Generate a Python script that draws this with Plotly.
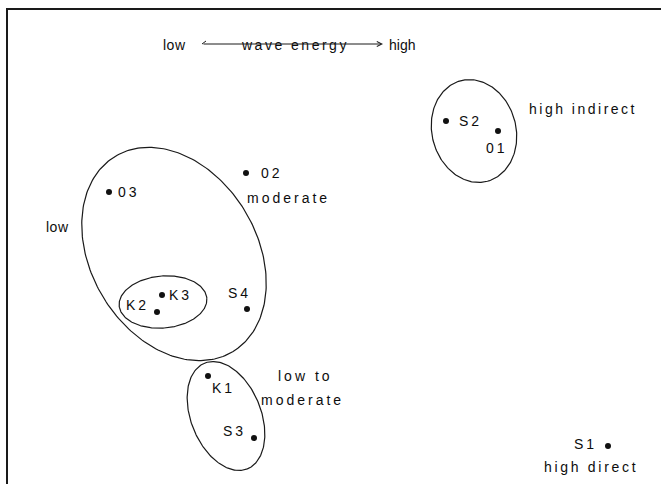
import numpy as np
import plotly.graph_objects as go

# --- data (ordination scores) ---
site = ["03", "02", "S2", "01", "K3", "K2", "S4", "K1", "S3", "S1"]
dim1 = [109, 246, 446, 498, 162, 157, 247, 208, 254, 608]
dim2 = [192, 173, 121, 131, 295, 312, 309, 376, 438, 446]

# label offsets in pixels (left edge of text relative to the point, vertical offset down)
lab_dx = [8, 14, 12, -13, 6, -32, -20, 3, -32, -35]
lab_dy = [0, 0, 0, 17, 0, -7, -16, 12, -7, -2]

# group outlines: centre x, centre y, semi-major, semi-minor, tilt (deg)
group_names = ["low", "K", "high indirect", "low to moderate"]
group_cx = [174, 163, 474, 226]
group_cy = [254, 302, 131, 416]
group_a = [114, 44, 52, 57]
group_b = [83, 26, 42, 35]
group_tilt = [59, -5, 75, 68]

FONT = dict(family="Liberation Sans, Arial, sans-serif", size=14, color="#0d0d0d")

fig = go.Figure()

t = np.linspace(0, 2 * np.pi, 241)
for name, cx, cy, a, b, th in zip(group_names, group_cx, group_cy, group_a, group_b, group_tilt):
    r = np.deg2rad(th)
    ex = cx + a * np.cos(r) * np.cos(t) - b * np.sin(r) * np.sin(t)
    ey = cy + a * np.sin(r) * np.cos(t) + b * np.cos(r) * np.sin(t)
    fig.add_trace(go.Scatter(x=ex, y=ey, mode="lines", name=name,
                             line=dict(color="#1a1a1a", width=1.2),
                             hoverinfo="skip", showlegend=False))

fig.add_trace(go.Scatter(x=dim1, y=dim2, mode="markers", text=site,
                         marker=dict(color="#111", size=6),
                         showlegend=False))

ann = []
for s, x, y, dx, dy in zip(site, dim1, dim2, lab_dx, lab_dy):
    ann.append(dict(x=x, y=y, xref="x", yref="y", text=s, showarrow=False,
                    xanchor="left", yanchor="middle", align="left",
                    xshift=dx - 1, yshift=-dy, font=FONT))

free_text = [
    ("high indirect", 528, 109),
    ("moderate", 246, 198),
    ("low", 45, 227),
    ("low to", 277, 376),
    ("moderate", 260, 400),
    ("high direct", 543, 467),
    ("low", 162, 45),
    ("wave energy", 240, 45),
    ("high", 388, 45),
]
for s, x, y in free_text:
    ann.append(dict(x=x - 1, y=y, xref="x", yref="y", text=s, showarrow=False,
                    xanchor="left", yanchor="middle", align="left", font=FONT))

# wave-energy arrow
ann.append(dict(x=383, y=44, ax=202, ay=44, xref="x", yref="y", axref="x", ayref="y",
                text="", showarrow=True, arrowhead=5, arrowsize=1.0,
                arrowwidth=1, arrowcolor="#1a1a1a"))

shapes = [
    dict(type="line", xref="x", yref="y", x0=6, x1=661, y0=9, y1=9,
         line=dict(color="#1a1a1a", width=2)),
    dict(type="line", xref="x", yref="y", x0=7, x1=7, y0=8, y1=484,
         line=dict(color="#1a1a1a", width=2)),
    # small barb at the tail of the wave-energy arrow
    dict(type="line", xref="x", yref="y", x0=202, x1=206, y0=44, y1=41,
         line=dict(color="#1a1a1a", width=1)),
]

fig.update_layout(
    width=661, height=484, autosize=False,
    margin=dict(l=0, r=0, t=0, b=0),
    paper_bgcolor="white", plot_bgcolor="white",
    xaxis=dict(range=[0, 661], visible=False, fixedrange=True),
    yaxis=dict(range=[484, 0], visible=False, fixedrange=True),
    annotations=ann, shapes=shapes,
)

js = """
document.body.style.margin = '0';
document.body.style.overflow = 'hidden';
var gd = document.getElementById('{plot_id}');
var sp = {"low": 0.5, "high": 0, "wave energy": 2.5, "high indirect": 2.5, "high direct": 2.7};
gd.querySelectorAll('.annotation-text').forEach(function(el){
  var s = el.textContent;
  var v = (s in sp) ? sp[s] : 3;
  el.style.letterSpacing = v + 'px';
});
"""

fig.write_html("out.html", post_script=js, config={"displayModeBar": False})
